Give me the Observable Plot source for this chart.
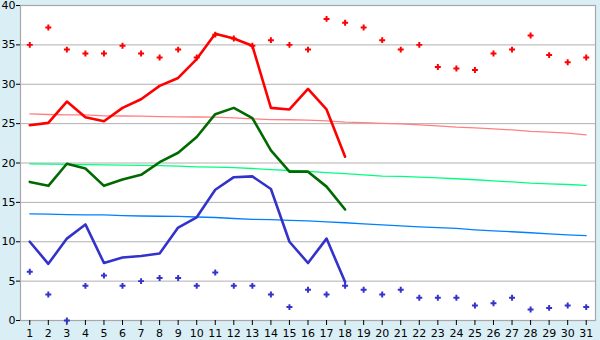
<!DOCTYPE html>
<html>
<head>
<meta charset="utf-8">
<script src="https://cdn.jsdelivr.net/npm/d3@7"></script>
<script src="https://cdn.jsdelivr.net/npm/@observablehq/plot@0.6"></script>
<style>
  html, body { margin: 0; padding: 0; background: #d9eef5; }
  #chart { width: 600px; height: 340px; }
</style>
</head>
<body>
<div id="chart"></div>
<script>
const days = [1,2,3,4,5,6,7,8,9,10,11,12,13,14,15,16,17,18,19,20,21,22,23,24,25,26,27,28,29,30,31];
const yTicks = [0,5,10,15,20,25,30,35,40];

// record values (dots)
const maxRecord = [35.0,37.2,34.4,33.9,33.9,34.9,33.9,33.4,34.4,33.4,36.3,35.8,34.9,35.6,35.0,34.4,38.3,37.8,37.2,35.6,34.4,35.0,32.2,32.0,31.8,33.9,34.4,36.2,33.7,32.8,33.4];
const minRecord = [6.2,3.3,0.0,4.4,5.7,4.4,5.0,5.4,5.4,4.4,6.1,4.4,4.4,3.3,1.7,3.9,3.3,4.4,3.9,3.3,3.9,2.9,2.9,2.9,1.9,2.2,2.9,1.4,1.6,1.9,1.7];

// observed values (days 1-18)
const obsDays = [1,2,3,4,5,6,7,8,9,10,11,12,13,14,15,16,17,18];
const maxObs  = [24.8,25.1,27.8,25.8,25.3,27.0,28.1,29.8,30.8,33.2,36.4,35.8,34.9,27.0,26.8,29.4,26.8,20.8];
const meanObs = [17.6,17.1,19.9,19.3,17.1,17.9,18.5,20.1,21.3,23.3,26.2,27.0,25.7,21.6,18.9,18.9,17.0,14.1];
const minObs  = [10.0,7.2,10.4,12.2,7.3,8.0,8.2,8.5,11.8,13.1,16.6,18.2,18.3,16.7,10.0,7.3,10.4,4.9];

// normals (pale lines)
const maxNormal  = [26.25,26.16,26.12,26.10,25.99,25.97,25.94,25.88,25.86,25.84,25.82,25.74,25.61,25.52,25.49,25.45,25.36,25.20,25.12,25.02,24.96,24.85,24.72,24.55,24.45,24.34,24.20,24.02,23.92,23.80,23.58];
const meanNormal = [19.90,19.86,19.82,19.79,19.77,19.73,19.70,19.66,19.60,19.52,19.47,19.42,19.30,19.17,19.05,18.93,18.79,18.64,18.50,18.34,18.30,18.20,18.12,18.00,17.87,17.74,17.60,17.45,17.36,17.27,17.16];
const minNormal  = [13.55,13.50,13.44,13.42,13.41,13.33,13.27,13.24,13.21,13.14,13.08,12.95,12.85,12.82,12.72,12.66,12.53,12.41,12.28,12.15,12.02,11.90,11.79,11.70,11.52,11.39,11.27,11.14,11.01,10.88,10.79];

const full = days.map((d, i) => ({day: d, maxRec: maxRecord[i], minRec: minRecord[i], maxN: maxNormal[i], meanN: meanNormal[i], minN: minNormal[i]}));
const obs = obsDays.map((d, i) => ({day: d, max: maxObs[i], mean: meanObs[i], min: minObs[i]}));

const chart = Plot.plot({
  width: 600,
  height: 340,
  marginLeft: 20,
  marginRight: 5,
  marginTop: 5,
  marginBottom: 20,
  style: {background: "#d9eef5", fontFamily: "DejaVu Sans, Verdana, sans-serif", fontSize: "11px", color: "#000", overflow: "visible"},
  x: {domain: [0.5, 31.5], label: null},
  y: {domain: [0, 40], label: null},
  marks: [
    Plot.frame({fill: "white", stroke: null}),
    Plot.gridY(yTicks, {stroke: "#b0b0b0", strokeOpacity: 1, strokeWidth: 1}),
    Plot.frame({stroke: "#a8a8a8", strokeWidth: 1.2}),
    Plot.axisY(yTicks, {tickSize: 4, tickPadding: 1, stroke: "#000", fill: "#000", tickFormat: d => d, label: null}),
    Plot.axisX(days, {tickSize: 5, tickPadding: 4, stroke: "#000", fill: "#000", tickFormat: d => d, label: null}),
    Plot.line(full, {x: "day", y: "maxN", stroke: "#ff8080", strokeWidth: 1.3}),
    Plot.line(full, {x: "day", y: "meanN", stroke: "#00ff80", strokeWidth: 1.3}),
    Plot.line(full, {x: "day", y: "minN", stroke: "#0080ff", strokeWidth: 1.3}),
    Plot.line(obs, {x: "day", y: "max", stroke: "#ff0000", strokeWidth: 2.6}),
    Plot.line(obs, {x: "day", y: "mean", stroke: "#006a00", strokeWidth: 2.6}),
    Plot.line(obs, {x: "day", y: "min", stroke: "#3333cc", strokeWidth: 2.6}),
    Plot.dot(full, {x: "day", y: "maxRec", symbol: "cross", r: 2.5, fill: "#ff0000", stroke: null}),
    Plot.dot(full, {x: "day", y: "minRec", symbol: "cross", r: 2.5, fill: "#3333cc", stroke: null})
  ]
});
document.getElementById("chart").appendChild(chart);
</script>
</body>
</html>
